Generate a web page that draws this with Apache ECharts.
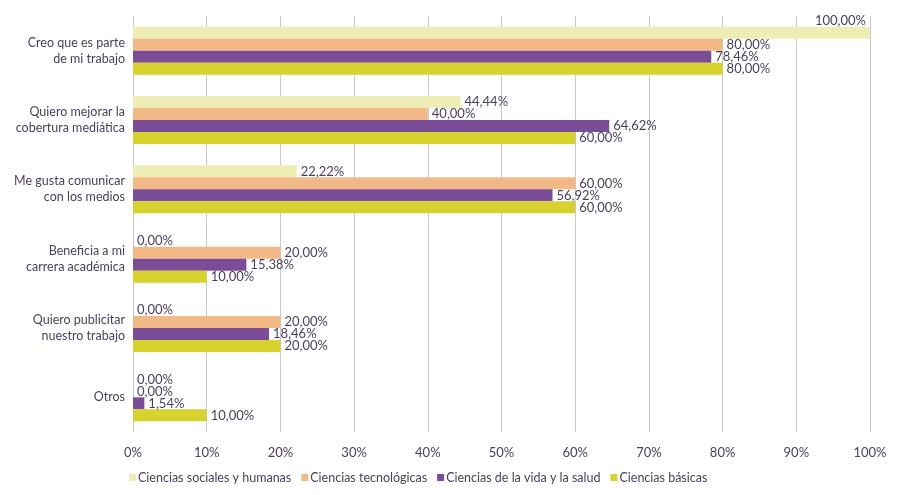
<!DOCTYPE html>
<html><head><meta charset="utf-8">
<script src="https://cdn.jsdelivr.net/npm/echarts@6/dist/echarts.min.js"></script>
<style>html,body{margin:0;padding:0;background:#fff}#c{width:900px;height:495px}</style>
</head><body><div id="c"></div>
<script>
const categories = ["Creo que es parte\nde mi trabajo","Quiero mejorar la\ncobertura mediática","Me gusta comunicar\ncon los medios","Beneficia a mi\ncarrera académica","Quiero publicitar\nnuestro trabajo","Otros"];
const seriesNames = ["Ciencias sociales y humanas","Ciencias tecnológicas","Ciencias de la vida y la salud","Ciencias básicas"];
const sociales = [100, 44.44, 22.22, 0, 0, 0];
const tecnologicas = [80, 40, 60, 20, 20, 0];
const vidaSalud = [78.46, 64.62, 56.92, 15.38, 18.46, 1.54];
const basicas = [80, 60, 60, 10, 20, 10];
const xTicks = [0,10,20,30,40,50,60,70,80,90,100];
const colors = ["#EEEDB6","#F2B986","#7B4C97","#D8D22E"];
const textColor = "#4A3F5C";
const fontFamily = "Lato, 'Noto Sans', sans-serif";
const fmt = v => v.toFixed(2).replace('.', ',') + '%';
const allData = [sociales, tecnologicas, vidaSalud, basicas];
const chart = echarts.init(document.getElementById('c'));
chart.setOption({
  animation: false,
  grid: {left: 133, right: 30, top: 16, bottom: 63},
  legend: {
    left: 124, top: 466, itemWidth: 7, itemHeight: 7, itemGap: 10, icon: 'rect',
    textStyle: {color: textColor, fontSize: 12.5, fontFamily: fontFamily, padding: [0,0,0,-3]},
    data: seriesNames
  },
  xAxis: {
    type: 'value', min: 0, max: 100, interval: 10,
    axisLine: {show: false}, axisTick: {show: false},
    splitLine: {lineStyle: {color: '#C8C8C8', width: 1}},
    axisLabel: {formatter: v => v + '%', color: textColor, fontSize: 13, fontFamily: fontFamily, margin: 14}
  },
  yAxis: {
    type: 'category', data: categories, inverse: true,
    axisLine: {show: false}, axisTick: {show: false},
    axisLabel: {color: textColor, fontSize: 12.5, fontFamily: fontFamily, lineHeight: 16, margin: 8, align: 'right'}
  },
  series: seriesNames.map((n, i) => ({
    name: n, type: 'bar', barWidth: 12, barGap: '0%',
    itemStyle: {color: colors[i]},
    data: allData[i].map(v => v >= 100 ? {value: v, label: {position: 'insideTopRight', offset: [0, -16]}} : v),
    label: {show: true, position: 'right', distance: 4, formatter: p => fmt(p.value), color: textColor, fontSize: 13, fontFamily: fontFamily},
    z: 2
  }))
});
</script></body></html>
